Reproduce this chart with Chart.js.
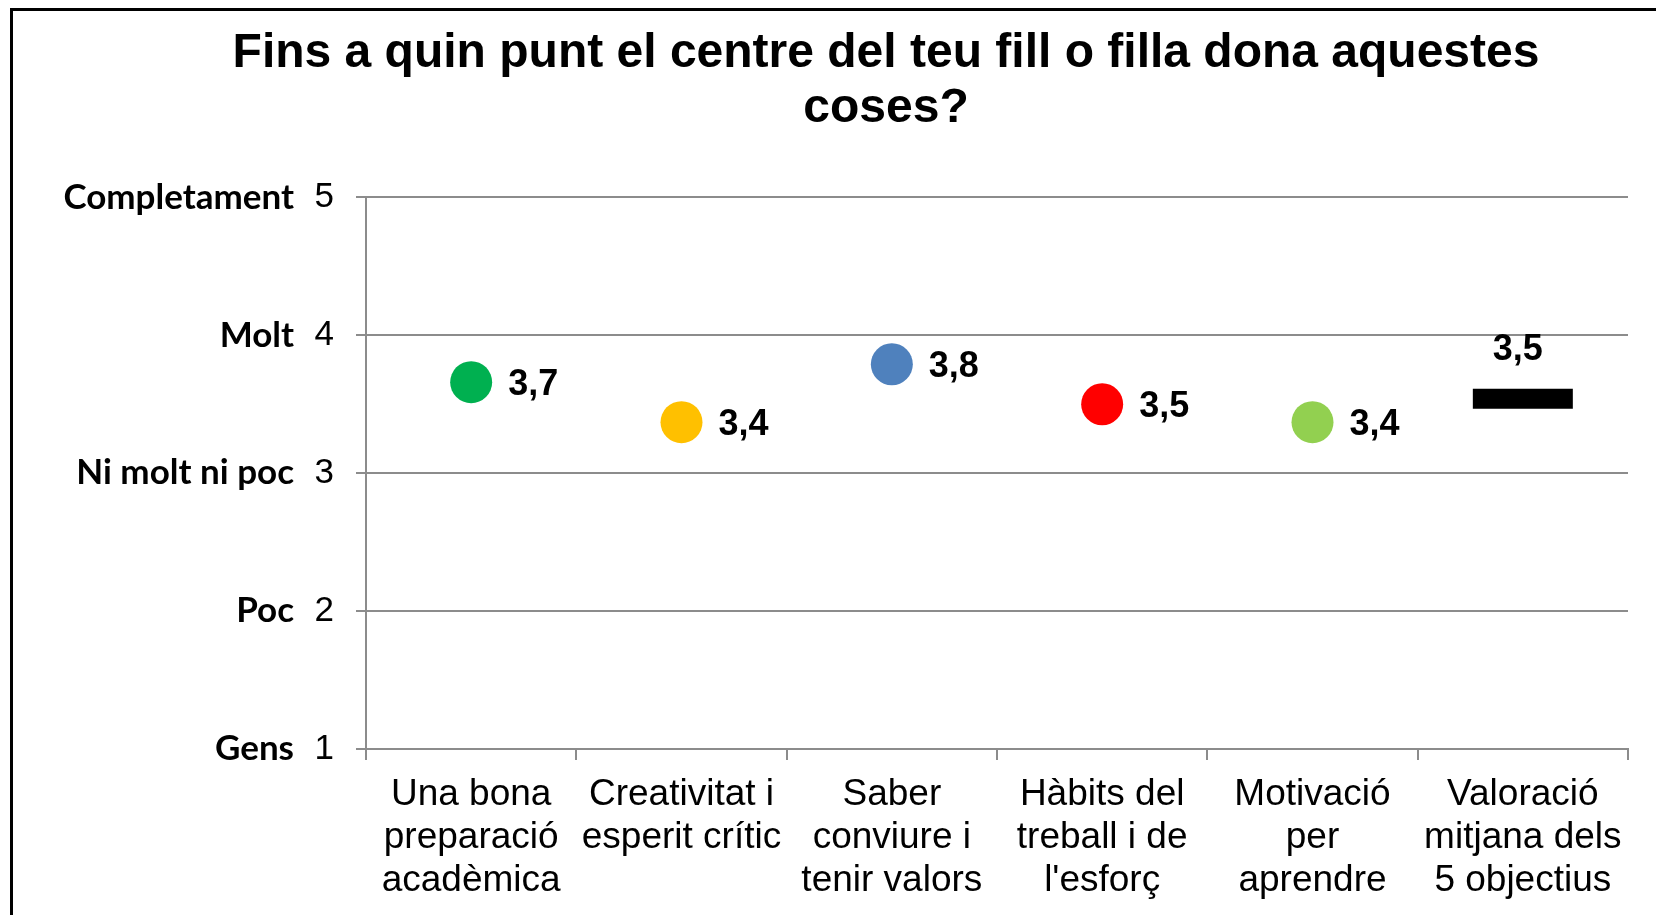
<!DOCTYPE html>
<html>
<head>
<meta charset="utf-8">
<script src="https://cdn.jsdelivr.net/npm/chart.js@4/dist/chart.umd.min.js"></script>
<style>
  html, body { margin: 0; padding: 0; background: #fff; overflow: hidden; }
  #wrap { position: relative; width: 1656px; height: 915px; }
  #frame { position: absolute; left: 10px; top: 8px; width: 2000px; height: 2000px; border: 3px solid #000; pointer-events: none; }
  canvas { position: absolute; left: 0; top: 0; }
</style>
</head>
<body>
<div id="wrap">
  <canvas id="chart" width="1656" height="915"></canvas>
  <div id="frame"></div>
</div>
<script>
// categories (multi-line labels)
const categories = [
  ["Una bona", "preparació", "acadèmica"],
  ["Creativitat i", "esperit crític"],
  ["Saber", "conviure i", "tenir valors"],
  ["Hàbits del", "treball i de", "l'esforç"],
  ["Motivació", "per", "aprendre"],
  ["Valoració", "mitjana dels", "5 objectius"]
];
// mean scores
const scores = [3.66, 3.37, 3.79, 3.5, 3.37, 3.54];
const pointColors = ["#00b050", "#ffc000", "#4f81bd", "#ff0000", "#92d050", "#000000"];
const scaleWords = { 1: "Gens", 2: "Poc", 3: "Ni molt ni poc", 4: "Molt", 5: "Completament" };

const gridGrey = "#8c8c8c";

// labels next to the marks, drawn from the element positions
const valueLabels = {
  id: "valueLabels",
  afterDatasetsDraw(chart) {
    const ctx = chart.ctx;
    const meta = chart.getDatasetMeta(0);
    ctx.save();
    ctx.font = "bold 36px 'Liberation Sans', Arial, sans-serif";
    ctx.fillStyle = "#000";
    ctx.textBaseline = "middle";
    meta.data.forEach((pt, i) => {
      const txt = scores[i].toFixed(1).replace(".", ",");
      if (i === scores.length - 1) {
        ctx.textAlign = "center";
        ctx.fillText(txt, pt.x - 5, pt.y - 49);
      } else {
        ctx.textAlign = "left";
        ctx.fillText(txt, pt.x + 37, pt.y + 3);
      }
    });
    ctx.restore();
  }
};

const ctx = document.getElementById("chart").getContext("2d");
new Chart(ctx, {
  type: "line",
  data: {
    labels: categories,
    datasets: [{
      data: scores,
      showLine: false,
      pointStyle: ["circle", "circle", "circle", "circle", "circle", "line"],
      pointRadius: [21, 21, 21, 21, 21, 50],
      pointBackgroundColor: pointColors,
      pointBorderColor: pointColors,
      pointBorderWidth: [0, 0, 0, 0, 0, 20]
    }]
  },
  plugins: [valueLabels],
  options: {
    responsive: false,
    animation: false,
    events: [],
    // the original chart is wider than the crop, so the title sits right of centre
    layout: { autoPadding: false, padding: { left: 0, right: -116, top: 0, bottom: 0 } },
    plugins: {
      legend: { display: false },
      tooltip: { enabled: false },
      title: {
        display: true,
        text: ["Fins a quin punt el centre del teu fill o filla dona aquestes", "coses?"],
        color: "#000",
        font: { family: "'Liberation Sans', Arial, sans-serif", size: 48, weight: "bold", lineHeight: 1.15 },
        padding: { top: 26, bottom: 61 }
      }
    },
    scales: {
      x: {
        type: "category",
        offset: true,
        grid: { offset: true, drawOnChartArea: false, drawTicks: true, tickLength: 11, color: gridGrey, lineWidth: 2 },
        border: { color: gridGrey, width: 2 },
        ticks: {
          color: "#000",
          autoSkip: false,
          maxRotation: 0,
          padding: 13,
          font: { family: "'Liberation Sans', Arial, sans-serif", size: 37, lineHeight: 1.17 }
        },
        afterFit(scale) {
          scale.height = 166;
          scale.paddingLeft = 0;
          scale.paddingRight = 0;
        }
      },
      y: {
        position: "left",
        weight: 0,
        min: 1,
        max: 5,
        grid: { color: gridGrey, lineWidth: 2, tickLength: 10 },
        border: { color: gridGrey, width: 2 },
        ticks: {
          stepSize: 1,
          color: "#000",
          padding: 22,
          font: { family: "'Liberation Sans', Arial, sans-serif", size: 35 }
        },
        afterFit(scale) { scale.width = 70; }
      },
      words: {
        position: "left",
        weight: 1,
        min: 1,
        max: 5,
        grid: { display: false, drawTicks: false },
        border: { display: false },
        ticks: {
          stepSize: 1,
          color: "#000",
          padding: 2,
          font: { family: "Lato, 'Open Sans', sans-serif", size: 35, weight: "bold" },
          callback: (v) => scaleWords[v] || ""
        },
        afterFit(scale) { scale.width = 296; }
      },
      // empty right-hand space (the cropped part of the original chart)
      spacer: {
        position: "right",
        min: 1,
        max: 5,
        grid: { display: false, drawTicks: false },
        border: { display: false },
        ticks: { display: false },
        afterFit(scale) { scale.width = 144; }
      }
    }
  }
});
</script>
</body>
</html>
